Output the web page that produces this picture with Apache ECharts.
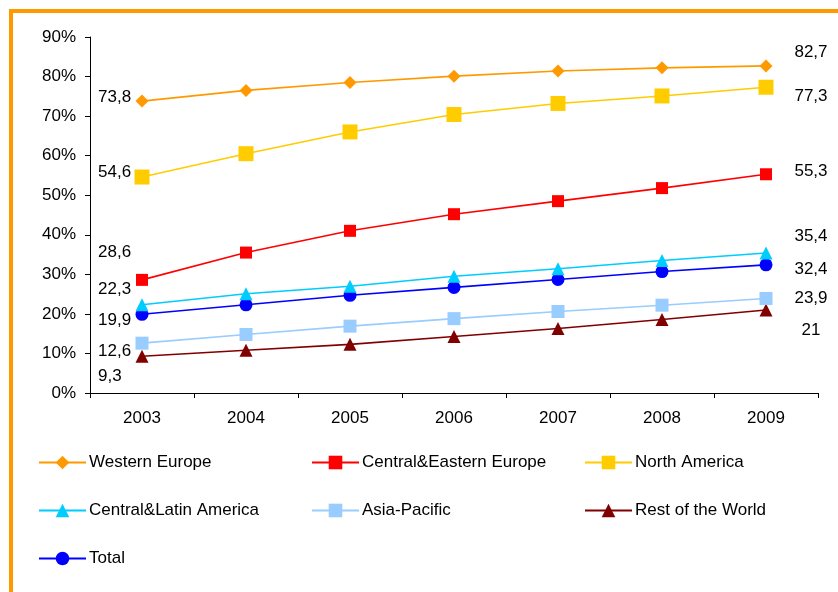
<!DOCTYPE html>
<html>
<head>
<meta charset="utf-8">
<script src="https://cdn.jsdelivr.net/npm/echarts@6/dist/echarts.min.js"></script>
<style>html,body{margin:0;padding:0;background:#fff}#c{width:838px;height:592px}</style>
</head>
<body>
<div id="c"></div>
<script>
const years = ['2003','2004','2005','2006','2007','2008','2009'];
const seriesNames = ['Western Europe','Central&Eastern Europe','North America','Central&Latin America','Asia-Pacific','Rest of the World','Total'];
const westernEurope = [73.8, 76.5, 78.5, 80.1, 81.4, 82.2, 82.7];
const centralEasternEurope = [28.6, 35.5, 41.0, 45.2, 48.5, 51.8, 55.3];
const northAmerica = [54.6, 60.5, 66.0, 70.4, 73.2, 75.1, 77.3];
const centralLatinAmerica = [22.3, 25.1, 27.0, 29.5, 31.4, 33.5, 35.4];
const asiaPacific = [12.6, 14.8, 16.9, 18.8, 20.6, 22.2, 23.9];
const restOfWorld = [9.3, 10.8, 12.3, 14.3, 16.3, 18.6, 21.0];
const total = [19.9, 22.3, 24.7, 26.7, 28.7, 30.7, 32.4];
const yTicks = [0, 10, 20, 30, 40, 50, 60, 70, 80, 90];

const values = [westernEurope, centralEasternEurope, northAmerica, centralLatinAmerica, asiaPacific, restOfWorld, total];

// styling (kept separate from data)
const styles = [
  {color:'#FF9900', symbol:'diamond', size:13, firstDy:-4, lastDy:-14},
  {color:'#FF0000', symbol:'rect', size:12, firstDy:-28, lastDy:-3},
  {color:'#FFCC00', symbol:'rect', size:15, firstDy:-5, lastDy:9},
  {color:'#00CCFF', symbol:'triangle', size:13, firstDy:-15, lastDy:-17},
  {color:'#99CCFF', symbol:'rect', size:13, firstDy:8, lastDy:0},
  {color:'#800000', symbol:'triangle', size:13, firstDy:20, lastDy:20},
  {color:'#0000FF', symbol:'circle', size:13, firstDy:6, lastDy:4}
];
const FONT = 'Liberation Sans, Arial, sans-serif';
const FS = 17;
const fmt = v => String(v % 1 === 0 ? v.toFixed(0) : v).replace('.', ',');

const series = seriesNames.map((name, si) => {
  const st = styles[si];
  const vals = values[si];
  const last = vals.length - 1;
  return {
    name, type:'line',
    symbol: st.symbol, symbolSize: st.size,
    itemStyle:{color: st.color},
    lineStyle:{color: st.color, width: 1.6},
    z: 10 - si,
    data: vals.map((v, i) => {
      if (i === 0) return {value:v, label:{show:true, position:'inside', align:'left', verticalAlign:'middle', offset:[-44, st.firstDy], formatter:()=>fmt(v)}};
      if (i === last) return {value:v, label:{show:true, position:'inside', align:'center', verticalAlign:'middle', offset:[45, st.lastDy], formatter:()=>fmt(v)}};
      return v;
    }),
    label:{color:'#000', fontSize:FS, fontFamily:FONT}
  };
});

const legendCommon = {
  orient:'vertical', itemWidth:47, itemHeight:17, itemGap:31,
  textStyle:{color:'#000', fontSize:FS, fontFamily:FONT, padding:[0,0,0,-2]}
};
const chart = echarts.init(document.getElementById('c'), null, {renderer:'canvas'});
chart.setOption({
  animation:false,
  backgroundColor:'#fff',
  graphic:[{type:'rect', shape:{x:11, y:11, width:900, height:700}, style:{fill:'none', stroke:'#FF9900', lineWidth:4}, z:-1}],
  grid:{left:90, right:20, top:37, bottom:199},
  xAxis:{
    type:'category', data:years, boundaryGap:true,
    axisLine:{lineStyle:{color:'#000', width:1}},
    axisTick:{show:true, length:5, inside:false, alignWithLabel:false, lineStyle:{color:'#000'}},
    axisLabel:{color:'#000', fontSize:FS, fontFamily:FONT, margin:17}
  },
  yAxis:{
    type:'value', min:yTicks[0], max:yTicks[yTicks.length-1], interval:yTicks[1]-yTicks[0],
    axisLine:{show:true, lineStyle:{color:'#000', width:1}},
    axisTick:{show:true, length:5, lineStyle:{color:'#000'}},
    splitLine:{show:false},
    axisLabel:{color:'#000', fontSize:FS, fontFamily:FONT, margin:14, formatter:'{value}%'}
  },
  legend:[
    Object.assign({}, legendCommon, {left:33, top:449, data:[seriesNames[0], seriesNames[3], seriesNames[6]]}),
    Object.assign({}, legendCommon, {left:306, top:449, data:[seriesNames[1], seriesNames[4]]}),
    Object.assign({}, legendCommon, {left:579, top:449, data:[seriesNames[2], seriesNames[5]]})
  ],
  series
});
</script>
</body>
</html>
